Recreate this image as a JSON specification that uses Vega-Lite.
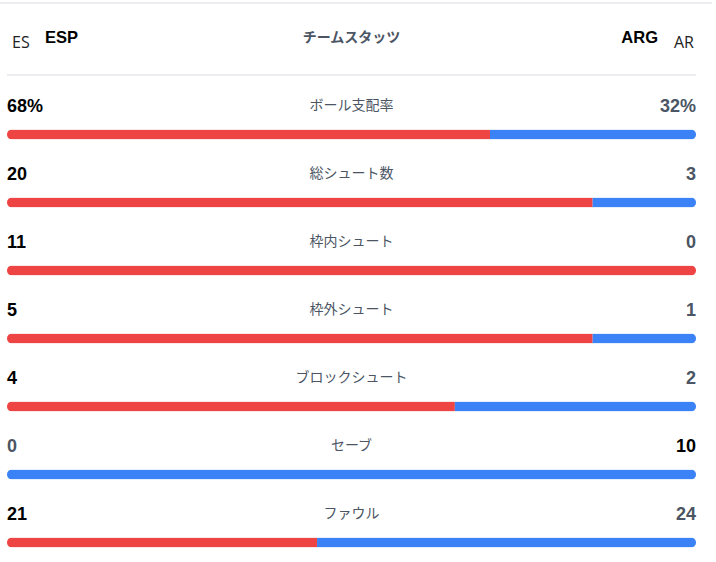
{
  "$schema": "https://vega.github.io/schema/vega-lite/v6.json",
  "width": 716,
  "height": 562,
  "padding": 0,
  "autosize": {"type": "none"},
  "background": "white",
  "config": {"view": {"stroke": null}},
  "datasets": {
    "stats": [
      {"row": 1, "stat": "ボール支配率", "esp": "68%", "arg": "32%", "esp_rank": "win", "arg_rank": "lose"},
      {"row": 2, "stat": "総シュート数", "esp": "20", "arg": "3", "esp_rank": "win", "arg_rank": "lose"},
      {"row": 3, "stat": "枠内シュート", "esp": "11", "arg": "0", "esp_rank": "win", "arg_rank": "lose"},
      {"row": 4, "stat": "枠外シュート", "esp": "5", "arg": "1", "esp_rank": "win", "arg_rank": "lose"},
      {"row": 5, "stat": "ブロックシュート", "esp": "4", "arg": "2", "esp_rank": "win", "arg_rank": "lose"},
      {"row": 6, "stat": "セーブ", "esp": "0", "arg": "10", "esp_rank": "lose", "arg_rank": "win"},
      {"row": 7, "stat": "ファウル", "esp": "21", "arg": "24", "esp_rank": "win", "arg_rank": "lose"}
    ],
    "shares": [
      {"row": 1, "team": "ESP", "share": 0.701},
      {"row": 1, "team": "ARG", "share": 0.299},
      {"row": 2, "team": "ESP", "share": 0.85},
      {"row": 2, "team": "ARG", "share": 0.15},
      {"row": 3, "team": "ESP", "share": 1.0},
      {"row": 3, "team": "ARG", "share": 0.0},
      {"row": 4, "team": "ESP", "share": 0.85},
      {"row": 4, "team": "ARG", "share": 0.15},
      {"row": 5, "team": "ESP", "share": 0.65},
      {"row": 5, "team": "ARG", "share": 0.35},
      {"row": 6, "team": "ESP", "share": 0.0},
      {"row": 6, "team": "ARG", "share": 1.0},
      {"row": 7, "team": "ESP", "share": 0.45},
      {"row": 7, "team": "ARG", "share": 0.55}
    ]
  },
  "layer": [
    {
      "data": {"name": "shares"},
      "mark": {"type": "bar", "orient": "horizontal", "cornerRadius": 5, "size": 10},
      "encoding": {
        "y": {"field": "row", "type": "quantitative", "scale": {"domain": [-0.97794, 7.28676], "reverse": true, "nice": false, "zero": false, "padding": 0}, "axis": null},
        "x": {"field": "share", "type": "quantitative", "stack": "zero", "scale": {"domain": [-0.01016, 1.02903], "nice": false, "zero": false, "padding": 0}, "axis": null},
        "color": {"field": "team", "type": "nominal", "scale": {"domain": ["ESP", "ARG"], "range": ["#ef4444", "#3b82f6"]}, "legend": null},
        "order": {"field": "team", "sort": "descending"}
      }
    },
    {
      "data": {"name": "stats"},
      "mark": {"type": "text", "font": "Liberation Sans", "fontWeight": "bold", "fontSize": 18, "align": "left", "baseline": "middle", "dy": -28},
      "encoding": {
        "y": {"field": "row", "type": "quantitative"},
        "x": {"datum": 0, "type": "quantitative"},
        "text": {"field": "esp"},
        "fill": {"field": "esp_rank", "type": "nominal", "scale": {"domain": ["win", "lose"], "range": ["#000000", "#4b5563"]}, "legend": null}
      }
    },
    {
      "data": {"name": "stats"},
      "mark": {"type": "text", "font": "Liberation Sans", "fontWeight": "bold", "fontSize": 18, "align": "right", "baseline": "middle", "dy": -28},
      "encoding": {
        "y": {"field": "row", "type": "quantitative"},
        "x": {"datum": 1, "type": "quantitative"},
        "text": {"field": "arg"},
        "fill": {"field": "arg_rank", "type": "nominal", "scale": {"domain": ["win", "lose"], "range": ["#000000", "#4b5563"]}, "legend": null}
      }
    },
    {
      "data": {"name": "stats"},
      "mark": {"type": "text", "font": "Noto Sans CJK JP", "fontSize": 14, "color": "#4b5563", "align": "center", "baseline": "middle", "dy": -29},
      "encoding": {
        "y": {"field": "row", "type": "quantitative"},
        "x": {"datum": 0.5, "type": "quantitative"},
        "text": {"field": "stat"}
      }
    },
    {
      "data": {"name": "stats"},
      "transform": [{"filter": "datum.row == 1"}],
      "layer": [
        {
          "mark": {"type": "text", "font": "Open Sans", "fontSize": 16, "color": "#222222", "align": "left", "baseline": "middle", "dx": 5, "dy": -23},
          "encoding": {"x": {"datum": 0, "type": "quantitative"}, "y": {"datum": 0, "type": "quantitative"}, "text": {"value": "ES"}}
        },
        {
          "mark": {"type": "text", "font": "Liberation Sans", "fontWeight": "bold", "fontSize": 16.5, "color": "#000000", "align": "left", "baseline": "middle", "dx": 38, "dy": -28},
          "encoding": {"x": {"datum": 0, "type": "quantitative"}, "y": {"datum": 0, "type": "quantitative"}, "text": {"value": "ESP"}}
        },
        {
          "mark": {"type": "text", "font": "Noto Sans CJK JP", "fontWeight": "bold", "fontSize": 14, "color": "#4b5563", "align": "center", "baseline": "middle", "dy": -28},
          "encoding": {"x": {"datum": 0.5, "type": "quantitative"}, "y": {"datum": 0, "type": "quantitative"}, "text": {"value": "チームスタッツ"}}
        },
        {
          "mark": {"type": "text", "font": "Liberation Sans", "fontWeight": "bold", "fontSize": 16.5, "color": "#000000", "align": "right", "baseline": "middle", "dx": -38, "dy": -28},
          "encoding": {"x": {"datum": 1, "type": "quantitative"}, "y": {"datum": 0, "type": "quantitative"}, "text": {"value": "ARG"}}
        },
        {
          "mark": {"type": "text", "font": "Open Sans", "fontSize": 16, "color": "#222222", "align": "right", "baseline": "middle", "dx": -2, "dy": -23},
          "encoding": {"x": {"datum": 1, "type": "quantitative"}, "y": {"datum": 0, "type": "quantitative"}, "text": {"value": "AR"}}
        },
        {
          "mark": {"type": "rule", "color": "#e5e7eb", "strokeWidth": 1.5},
          "encoding": {
            "y": {"datum": 0.125, "type": "quantitative"},
            "x": {"datum": 0, "type": "quantitative"},
            "x2": {"datum": 1}
          }
        },
        {
          "mark": {"type": "rule", "color": "#e5e7eb", "strokeWidth": 1.5},
          "encoding": {
            "y": {"datum": -0.934, "type": "quantitative"},
            "x": {"datum": -0.01016, "type": "quantitative"},
            "x2": {"datum": 1.0232}
          }
        }
      ]
    }
  ]
}
